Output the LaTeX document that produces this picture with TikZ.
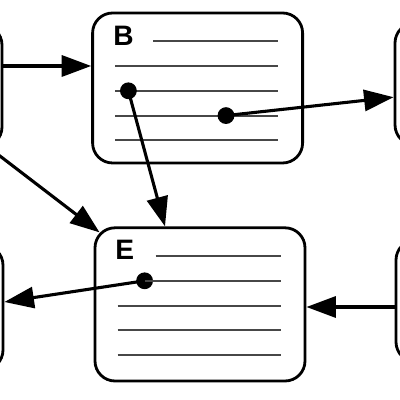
\documentclass[tikz,border=0pt]{standalone}
\usepackage{fontspec}
\setsansfont{Liberation Sans}
\usetikzlibrary{arrows.meta, positioning}
\tikzset{
  rec/.style={
    draw=black, line width=2pt, rounded corners=0.5cm,
    minimum width=5.25cm, minimum height=#1, inner sep=0pt
  },
  rec/.default=3.8cm,
  lbl/.style={font=\fontsize{20}{20}\selectfont\sffamily\bfseries, inner sep=0pt},
  txt/.style={line width=1.4pt, color=black!72},
  dot/.style={circle, fill=black, minimum size=0.42cm, inner sep=0pt},
  arr/.style={-{Triangle[length=21pt,width=15pt]}, line width=2.2pt},
}

\begin{document}
\begin{tikzpicture}
    \useasboundingbox (0,0) rectangle (10,10);
    \clip (0,0) rectangle (10,10);

    % boxes
    \node[rec=3.05cm] (A) at (-2.575,7.85) {};
    \node[rec=3.75cm] (B) at (4.94,7.8) {};
    \node[rec=3.05cm] (C) at (12.5,7.9) {};
    \node[rec=3.12cm] (D) at (-2.55,2.31) {};
    \node[rec=3.83cm] (E) at (5.0,2.39) {};
    \node[rec=3.05cm] (F) at (12.525,2.475) {};

    \node[lbl] (labB) at ([shift={(0.81,-0.61)}]B.north west) {B};
    \node[lbl] (labE) at ([shift={(0.78,-0.59)}]E.north west) {E};

    % text lines
    \foreach \n in {B,E}
      \draw[txt] ([shift={(1.55,-0.74)}]\n.north west) -- ++(3.13,0);
    \foreach \y in {1.36,1.98,2.6,3.22}
      \draw[txt] ([shift={(0.6,-\y)}]B.north west) -- ++(4.08,0);
    \foreach \y in {1.98,2.6,3.22}
      \draw[txt] ([shift={(0.6,-\y)}]E.north west) -- ++(4.08,0);

    % pointers
    \node[dot] (b1) at ([shift={(0.93,-1.98)}]B.north west) {};
    \node[dot] (b2) at ([shift={(3.37,-2.6)}]B.north west) {};
    \node[dot] (e1) at ([shift={(1.275,-1.36)}]E.north west) {};
    \draw[txt] (e1.center) -- ++(3.405,0);
    \coordinate (bl2) at ([shift={(0.6,-1.36)}]B.north west);
    \coordinate (a1) at ([shift={(-0.1,-0.18)}]A.south east);

    \draw[arr] (A.east |- bl2) -- (B.west |- bl2);
    \draw[arr] (a1) -- ([shift={(0.15,-0.15)}]E.north west);
    \draw[arr] (b1.center) -- ([xshift=-0.875cm]E.north);
    \draw[arr] (b2.center) -- ([yshift=-0.33cm]C.west);
    \draw[arr] ([yshift=-0.15cm]F.west) -- ([yshift=-0.15cm]F.west -| E.east);
    \draw[arr] (e1.center) -- ([yshift=0.14cm]D.east);
  \end{tikzpicture}
\end{document}
